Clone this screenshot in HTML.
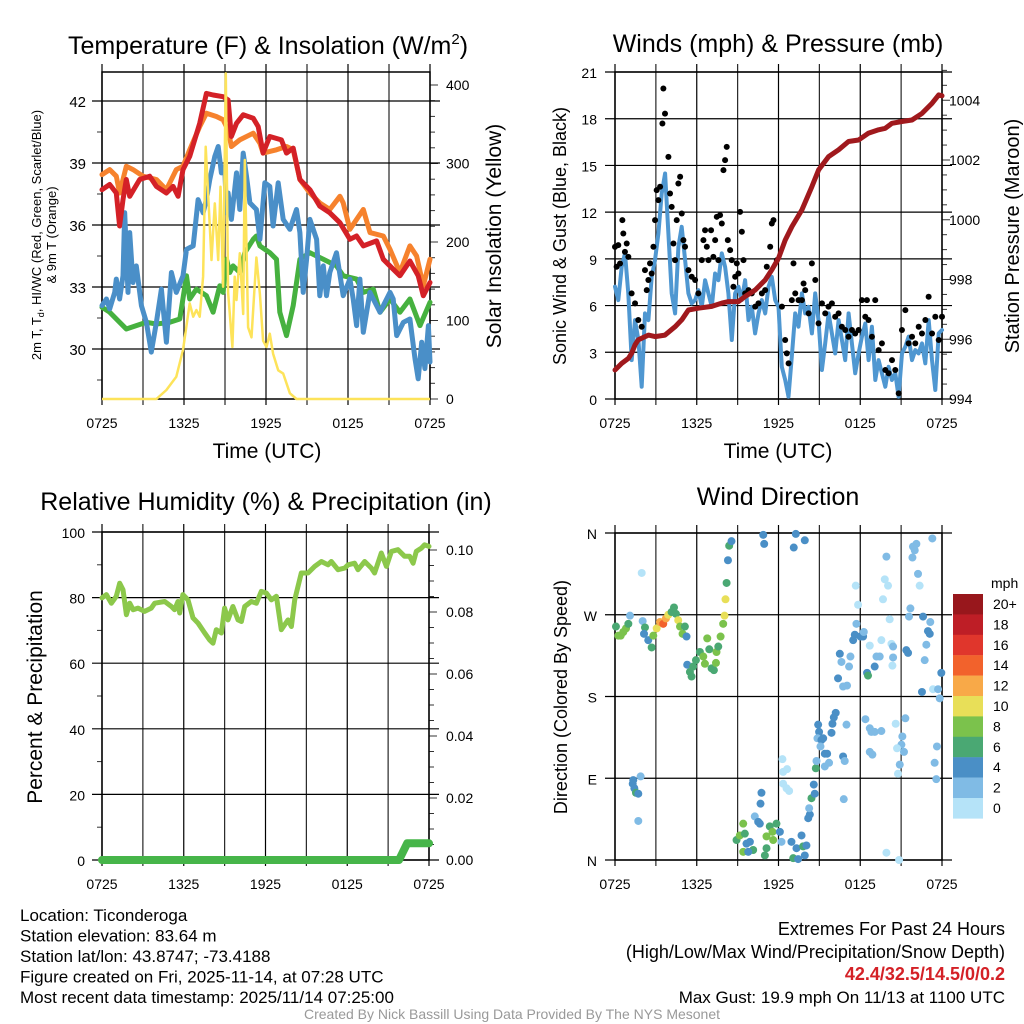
<!DOCTYPE html>
<html><head><meta charset="utf-8"><style>
body{margin:0;background:#fff;}
svg{display:block;font-family:"Liberation Sans",sans-serif;}
</style></head><body>
<svg id="c" width="1024" height="1024" viewBox="0 0 1024 1024"></svg>
<script>
// ---------- data ----------
const redT=[0,.56,1.05,1.29,1.54,1.78,2.03,2.76,3.49,3.98,4.71,5.2,5.57,5.93,6.42,7.15,7.64,8.13,8.86,9.23,9.47,9.84,10.33,11.06,11.43,11.79,12.28,13.13,13.5,13.99,14.48,15.21,15.94,16.67,17.41,18.14,18.63,19.12,20.09,20.58,21.31,21.8,22.53,23.14,23.51,24];
const redV=[37.71,37.96,37.55,35.95,37.23,38.2,37.39,38.2,38.36,37.87,37.55,37.87,37.39,38.68,39.32,40.92,42.37,42.29,42.21,42.05,40.28,40.92,41.33,41.17,40.76,39.48,40.28,40.12,39.48,39.72,38.2,37.71,36.91,36.59,36.11,35.31,35.47,34.99,35.23,34.34,33.86,33.54,34.26,33.54,32.58,33.22];
const orgT=[0,.56,1.05,1.29,1.78,2.27,3.0,3.98,4.71,5.44,5.93,6.42,7.15,7.64,8.37,8.86,9.23,9.47,10.08,11.06,11.55,11.79,12.77,13.5,13.99,14.48,15.21,15.94,16.67,17.41,17.65,18.14,19.12,19.61,20.58,21.07,21.8,22.53,23.02,23.51,24];
const orgV=[38.44,38.68,38.36,37.55,38.84,38.68,38.36,38.2,37.71,38.68,38.84,39.64,40.76,41.41,41.25,41.09,40.6,39.8,40.12,40.44,39.96,39.48,39.64,39.8,39.64,38.2,37.55,37.07,36.75,37.39,37.07,35.79,36.75,35.63,35.47,34.82,33.7,34.99,34.5,33.06,34.34];
const grnT=[0,.56,1.29,1.78,2.51,3.25,3.98,4.96,5.69,6.18,6.42,6.91,7.64,8.13,8.62,8.86,9.11,9.35,9.59,10.08,10.45,11.06,11.3,11.55,12.28,12.77,13.01,13.5,13.99,14.48,15.21,16.19,17.16,17.65,18.63,19.12,19.85,20.34,21.07,21.8,22.53,23.27,24];
const grnV=[32.02,31.78,31.29,30.97,31.13,31.29,31.21,31.29,31.45,33.54,32.42,32.9,32.58,31.78,33.06,32.74,34.34,33.7,34.02,33.7,34.66,35.31,35.47,34.99,34.66,34.34,31.78,30.65,32.1,34.34,34.66,34.34,34.02,33.54,33.38,32.74,32.9,31.78,32.42,31.78,32.42,31.13,32.26];
const bluT=[0,.32,.56,.93,1.05,1.29,1.54,1.66,1.9,2.03,2.27,2.51,2.88,3.25,3.61,3.98,4.35,4.71,5.08,5.44,5.93,6.18,6.67,7.03,7.4,7.64,7.89,8.25,8.5,8.74,8.98,9.11,9.23,9.47,9.84,10.08,10.33,10.57,10.82,11.3,11.55,11.91,12.28,12.52,12.89,13.26,13.75,14.23,14.48,14.72,14.97,15.21,15.7,15.94,16.19,16.43,16.67,17.16,17.65,18.14,18.38,18.63,18.87,19.12,19.6,20.34,21.07,21.31,21.56,22.05,22.53,22.9,23.14,23.39,23.63,23.88,24];
const bluV=[32.1,32.42,31.94,32.74,33.38,32.42,33.54,36.59,32.74,35.63,33.22,34.02,32.1,31.29,29.85,31.29,32.9,30.33,33.7,32.74,33.54,34.82,34.99,37.23,36.59,37.23,38.2,39.32,39.8,38.52,38.84,36.59,37.55,36.27,38.52,36.75,39.48,38.36,37.07,36.75,35.31,38.04,37.87,35.95,38.04,36.27,35.79,36.75,35.63,32.74,34.34,36.27,35.31,32.58,34.02,32.58,33.7,34.66,32.58,33.38,32.42,31.13,33.38,30.81,32.74,31.78,32.74,32.42,30.65,31.29,31.45,29.53,28.56,30.33,29.05,31.13,29.37];
const solT=[0,3.98,4.71,5.44,5.93,6.42,6.67,6.91,7.15,7.4,7.59,7.76,8.01,8.25,8.5,8.67,8.86,9.06,9.23,9.54,9.71,9.84,10.08,10.33,10.45,10.69,10.94,11.3,11.55,11.79,12.04,12.28,12.52,12.89,13.26,13.75,14.23,24];
const solV=[0,0,11.5,28.4,62.4,121.8,104.9,113.4,104.9,155.8,321.4,261.9,177.1,249.2,177.1,270.4,143.1,414.8,135.9,66.2,155.8,126.1,185.6,108.3,304.4,91.3,78.6,180.3,133.7,74.3,66.2,83.2,57.7,36.5,32.3,7.2,0,0];

const presT=[0,.49,.98,1.22,1.47,1.71,2.45,2.94,3.67,4.41,4.9,5.39,6.12,7.1,7.84,8.33,9.06,9.55,10.29,11.02,11.51,12.0,12.49,12.98,13.72,14.45,14.94,15.67,16.41,17.14,17.88,18.61,19.35,19.84,20.33,21.06,21.8,22.53,23.27,23.76,24];
const presV=[994.97,995.19,995.36,995.53,995.81,995.98,996.14,996.09,996.14,996.42,996.65,996.98,997.04,997.1,997.21,997.26,997.26,997.43,997.65,997.98,998.32,998.71,999.32,999.77,1000.33,1001.11,1001.67,1002.11,1002.34,1002.62,1002.67,1002.9,1003.01,1003.06,1003.23,1003.29,1003.34,1003.56,1003.9,1004.18,1004.15];
const windV=[7.21,6.35,8.49,9.35,6.78,2.5,5.07,3.79,0.79,5.5,5.07,7.85,8.92,10.63,13.2,14.48,10.63,6.78,5.5,9.77,11.06,8.92,6.78,6.14,6.35,6.99,5.92,7.63,6.78,5.92,8.06,7.63,9.35,8.49,6.78,3.79,6.78,7.21,6.35,7.63,5.07,5.92,4.21,5.5,6.35,5.5,7.21,7.85,6.35,5.92,2.07,1.22,0.15,2.72,5.5,4.64,6.78,5.5,5.92,4.21,6.78,5.07,1.86,3.57,5.5,4.21,2.93,5.07,3.79,2.5,5.5,3.57,1.65,2.93,4.0,4.85,2.5,4.64,1.22,2.5,1.65,0.79,2.07,1.22,1.65,0.15,2.93,3.36,4.0,2.5,3.14,2.93,3.57,2.29,5.07,2.5,0.58,4.21,4.43];
const gustT=[0,.12,.24,.37,.54,.61,.73,.86,.98,1.22,1.47,1.71,1.96,2.2,2.33,2.45,2.57,2.69,2.82,2.94,3.06,3.18,3.31,3.48,3.55,3.67,3.92,4.04,4.16,4.29,4.41,4.53,4.65,4.78,4.9,5.02,5.14,5.39,5.63,5.88,6.12,6.37,6.49,6.61,6.74,6.86,7.05,7.22,7.35,7.47,7.59,7.71,7.84,7.96,8.08,8.2,8.28,8.45,8.57,8.69,8.82,8.94,9.06,9.18,9.31,9.43,9.55,9.8,10.04,10.29,10.53,10.78,11.02,11.14,11.39,11.51,11.63,11.88,12.25,12.49,12.61,12.74,12.98,13.1,13.23,13.47,13.72,13.84,13.96,14.21,14.45,14.7,14.94,15.19,15.43,15.67,15.92,16.16,16.41,16.65,16.9,17.14,17.39,17.63,17.88,18.12,18.37,18.49,18.61,18.86,19.1,19.35,19.59,19.84,20.08,20.33,20.57,20.82,21.06,21.31,21.55,21.8,22.04,22.29,22.53,22.78,23.02,23.27,23.51,23.76,24];
const gustV=[9.77,8.49,9.88,8.7,11.49,10.63,9.45,9.99,9.13,6.78,6.14,5.07,4.64,8.28,6.99,7.64,8.71,8.06,9.78,11.49,13.41,12.77,13.63,17.69,19.94,18.33,15.55,13.2,12.34,9.99,8.92,11.49,13.84,14.27,11.91,10.2,9.78,8.28,7.85,7.64,6.78,8.92,10.2,10.84,9.78,8.92,10.84,9.13,10.2,11.7,8.92,11.81,11.27,14.7,15.34,16.19,10.2,9.56,8.92,7.21,7.85,8.71,8.06,12.02,10.74,8.92,6.78,6.99,6.78,5.93,6.14,6.78,6.99,8.49,9.78,11.27,11.49,8.92,5.93,3.79,2.93,2.29,6.35,8.71,6.78,6.35,6.35,7.42,6.99,5.5,8.71,7.64,4.86,6.14,5.5,5.93,6.14,5.28,5.5,4.64,4.43,4.0,4.43,4.21,4.43,6.35,5.28,6.35,5.07,4.0,6.35,3.14,3.57,1.86,1.65,2.5,1.86,0.36,4.43,5.71,3.57,4.0,3.57,4.64,4.21,5.07,6.57,4.21,5.28,3.79,5.28];

const rhT=[0,.32,.69,1.05,1.3,1.54,1.79,2.03,2.28,2.64,3.13,3.62,3.87,4.6,5.09,5.33,5.58,5.7,5.94,6.31,6.68,7.05,7.54,7.9,8.15,8.39,8.76,9.0,9.25,9.61,9.98,10.23,10.47,10.96,11.33,11.69,12.06,12.43,12.8,13.16,13.65,13.9,14.14,14.63,15.12,15.61,16.1,16.59,16.83,17.32,17.81,18.06,18.54,18.79,19.28,19.77,20.01,20.5,20.87,21.24,21.72,22.21,22.58,22.83,23.07,23.44,23.68,24];
const rhV=[79.9,80.9,78.3,80.4,84.4,82.4,74.8,78.3,76.3,76.8,75.8,76.8,78.3,78.8,77.3,76.3,78.8,75.3,80.9,79.3,73.8,72.2,69.2,67.1,66.1,70.2,69.2,76.8,73.2,77.3,73.2,72.7,77.3,78.8,78.3,81.9,81.4,79.3,80.4,70.2,73.2,71.2,79.3,87.5,87.5,89.5,91.0,90.0,91.0,88.5,89.0,90.0,90.5,88.5,91.0,89.0,87.5,93.6,89.5,94.1,94.6,92.6,92.6,90.5,94.1,95.1,96.1,95.6];
const prT=[0,21.8,22.4,24];
const prV=[0,0,0.0054,0.0054];

const dirT=[.07,.24,.42,.61,.81,.98,1.1,1.96,2.03,2.2,2.13,2.44,2.69,2.81,3.06,3.3,3.54,3.74,3.91,4.15,4.33,4.47,4.64,4.77,4.96,5.13,5.25,5.3,5.5,5.62,5.74,5.94,6.23,6.48,6.6,6.77,6.92,7.09,7.26,7.41,7.45,7.58,7.75,7.94,8.04,8.11,8.19,8.29,8.38,8.55,
1.3,1.42,1.54,1.71,1.88,1.71,1.34,
8.92,9.16,9.41,9.53,9.65,9.9,10.14,10.26,10.51,10.63,10.75,10.68,11.12,11.36,11.56,11.61,11.85,12.1,12.22,9.41,9.78,11.0,11.12,12.95,13.08,13.32,13.44,13.69,13.81,13.93,14.05,
12.29,12.34,12.63,12.34,12.59,12.78,14.18,14.3,14.25,14.42,14.59,14.66,14.74,14.79,14.91,14.98,14.86,15.15,15.08,15.28,15.4,15.57,15.4,15.71,15.89,15.96,16.06,16.2,16.74,16.86,16.99,16.79,
16.37,16.5,16.62,16.74,17.03,17.18,17.28,17.48,17.6,17.72,17.84,17.67,18.01,18.21,18.26,18.5,18.57,18.7,19.06,19.19,19.43,19.55,19.67,19.8,19.92,20.04,20.16,20.29,20.41,20.41,20.36,21.38,21.51,21.58,21.68,21.83,21.87,22.0,22.12,22.24,22.36,22.61,22.73,22.85,22.97,23.1,23.14,23.29,22.53,23.34,23.71,23.83,23.95,
18.38,18.7,18.82,19.06,19.55,18.7,18.89,20.6,21.31,21.09,21.02,21.21,20.7,20.9,20.77,23.63,23.46,23.58,19.92,20.85,
10.88,10.95,13.12,13.27,13.93];
const dirV=[257,247,247,251,255,260,269,316,263,256,249,242,234,247,255,262,260,266,270,273,278,271,264,257,249,257,246,215,207,202,213,220,229,224,216,244,232,211,209,217,229,235,246,260,269,287,305,330,346,351,
84,79,74,73,92,43,88,
22,27,40,29,18,20,11,48,42,40,74,62,26,37,31,22,40,31,20,9,9,5,13,20,2,13,1,27,15,5,16,
111,97,100,84,79,76,46,50,57,68,83,73,101,109,149,141,134,132,125,134,117,117,103,107,140,150,157,162,114,109,149,67,
200,227,218,191,192,213,224,242,248,260,281,302,246,246,251,206,203,236,213,224,224,242,287,309,334,302,265,238,235,223,214,231,228,268,277,333,345,341,348,315,302,268,220,237,252,249,262,354,185,188,188,178,206,
155,145,141,141,142,119,116,150,156,136,127,119,123,105,95,125,107,89,8,0,
358,348,344,359,352];
const dirS=[7,9,9,9,9,7,3,1,3,7,5,5,7,9,11,13,15,13,11,7,7,7,11,9,9,7,5,5,7,7,7,7,7,9,9,9,7,7,7,9,9,7,9,9,11,11,7,5,7,5,
5,5,7,5,3,3,5,
7,9,9,7,5,5,7,3,5,5,5,5,9,7,9,9,7,5,3,9,5,7,7,5,7,5,5,5,7,5,5,
1,1,1,1,1,1,5,5,3,7,5,5,7,3,5,5,3,5,3,5,5,5,3,3,5,5,5,5,5,3,3,3,
5,5,3,3,3,3,3,5,5,3,1,1,5,5,3,5,7,1,5,3,3,1,1,1,3,1,1,1,3,3,1,5,5,3,3,3,3,3,3,3,1,5,3,3,5,5,3,3,5,1,3,3,5,
3,3,3,3,3,3,3,1,3,3,3,3,1,3,1,3,3,3,1,1,
5,5,5,5,5];
const cbLabels=['20+','18','16','14','12','10','8','6','4','2','0'];
const cbColors=['#98171c','#be1e26','#e0362c','#f2622c','#f8a948','#e8df58','#7bc24c','#4aa873','#4a8fc6','#80bbe5','#b5e3f8'];
const xLabels=['0725','1325','1925','0125','0725'];

// ---------- helpers ----------
const NS='http://www.w3.org/2000/svg';
const svg=document.getElementById('c');
function mk(tag,attrs,parent){const e=document.createElementNS(NS,tag);for(const k in attrs)e.setAttribute(k,attrs[k]);(parent||svg).appendChild(e);return e;}
function txt(s,x,y,size,anchor,parent,extra){const t=mk('text',Object.assign({x:x,y:y,'font-size':size,'text-anchor':anchor||'middle',fill:'#000'},extra||{}),parent);t.textContent=s;return t;}
function lin(d0,d1,p0,p1){return v=>p0+(v-d0)*(p1-p0)/(d1-d0);}
function path(xs,ys,fx,fy){return xs.map((t,i)=>(i?'L':'M')+fx(t).toFixed(1)+','+fy(ys[i]).toFixed(1)).join('');}

function frame(g,L,R,T,B){
  for(let h=0;h<=24;h+=3){const x=lin(0,24,L,R)(h);const v=mk('line',{x1:x,x2:x,y1:T-8,y2:B+6,stroke:'#000','stroke-width':1.2,'stroke-opacity':h%6?0.85:1},g);
    
    }
  const fx=lin(0,24,L,R);
  xLabels.forEach((s,i)=>{const t=txt(s,fx(i*6),B+29,14,'middle',g);
    
    });
}
function hgrid(g,L,R,y){const l=mk('line',{x1:L-10,x2:R+10,y1:y,y2:y,stroke:'#000','stroke-width':1.2},g);
  
  }
function tick(g,x,y,len){mk('line',{x1:x,x2:x+len,y1:y,y2:y,stroke:'#000','stroke-width':1,'stroke-opacity':0.8},g);}
function rotText(s,x,y,size,g){const t=txt(s,x,y,size,'middle',g,{transform:'rotate(-90 '+x+' '+y+')'});return t;}

// ---------- Panel 1 ----------
(function(){
  const g=mk('g',{});
  const L=102,R=430,T=72,B=399;
  const fx=lin(0,24,L,R), fy=lin(42,39,101,163), fy2=lin(0,400,399,85);
  frame(g,L,R,T,B);
  [42,39,36,33,30].forEach(v=>{hgrid(g,L,R,fy(v));const t=txt(String(v),86,fy(v)+6,15,'end',g);
    });
  for(let v=28.5;v<43.5;v+=3)tick(g,L-5,fy(v),5);
  for(let v=0;v<=400;v+=20)tick(g,R,fy2(v),v%100?5:8);
  [0,100,200,300,400].forEach(v=>{const t=txt(String(v),446,fy2(v)+5,14,'start',g);
    });
  mk('rect',{x:L,y:T,width:R-L,height:B-T,fill:'none',stroke:'#000','stroke-width':1.5},g);
  const series=[[grnT,grnV,'#46b13f','dewpoint-line'],[bluT,bluV,'#4a8fc8','windchill-line'],[orgT,orgV,'#f6822d','temp-9m-line'],[redT,redV,'#d42127','temp-2m-line']];
  series.forEach(s=>{const p=mk('path',{d:path(s[0],s[1],fx,fy),fill:'none',stroke:s[2],'stroke-width':5,'stroke-linejoin':'round','stroke-linecap':'round'},g);
    });
  const sp=mk('path',{d:path(solT,solV,fx,v=>Math.max(T,fy2(v))),fill:'none',stroke:'#fde35a','stroke-width':2.5,'stroke-linejoin':'round'},g);
  
  const t1=txt('',268,54,25,'middle',g);t1.innerHTML='Temperature (F) &amp; Insolation (W/m<tspan font-size="15" dy="-10">2</tspan><tspan dy="10">)</tspan>';
  
  const xt=txt('Time (UTC)',267,458,21,'middle',g);
  const y1=rotText('',41,235,13,g);y1.innerHTML='2m T, T<tspan font-size="9" dy="3">d</tspan><tspan dy="-3">, HI/WC (Red, Green, Scarlet/Blue)</tspan>';
  
  const y1b=rotText('& 9m T (Orange)',56,235,13,g);
  const y2=rotText('Solar Insolation (Yellow)',501,236,21,g);
})();

// ---------- Panel 2 ----------
(function(){
  const g=mk('g',{});
  const L=615,R=942,T=72,B=399;
  const fx=lin(0,24,L,R), fy=lin(0,21,B,T), fy2=lin(994,1002,399,160);
  frame(g,L,R,T,B);
  for(let v=0;v<=21;v+=3){hgrid(g,L,R,fy(v));const t=txt(String(v),597,fy(v)+6,14,'end',g);
    }
  for(let v=994;v<=1005;v+=0.5)tick(g,R,fy2(v),v%2?5:8);
  for(let v=994;v<=1004;v+=2){const t=txt(String(v),949,fy2(v)+5,14,'start',g);
    }
  mk('rect',{x:L,y:T,width:R-L,height:B-T,fill:'none',stroke:'#000','stroke-width':1.5},g);
  const wt=windV.map((v,i)=>i*24/(windV.length-1));
  const wp=mk('path',{d:path(wt,windV,fx,fy),fill:'none',stroke:'#4f97d1','stroke-width':4,'stroke-linejoin':'round','stroke-linecap':'round'},g);
  
  gustT.forEach((t,i)=>{const c=mk('circle',{cx:fx(t),cy:fy(gustV[i]),r:3,fill:'#000'},g);
    
    });
  const pp=mk('path',{d:path(presT,presV,fx,fy2),fill:'none',stroke:'#a0191d','stroke-width':5,'stroke-linejoin':'round','stroke-linecap':'round'},g);
  
  const t1=txt('Winds (mph) & Pressure (mb)',778,52,25,'middle',g);
  const xt=txt('Time (UTC)',778,458,21,'middle',g);
  const y1=rotText('Sonic Wind & Gust (Blue, Black)',566,236,18,g);
  const y2=rotText('Station Pressure (Maroon)',1019,236,20,g);
})();

// ---------- Panel 3 ----------
(function(){
  const g=mk('g',{});
  const L=102,R=429,T=532,B=860;
  const fx=lin(0,24,L,R), fy=lin(0,100,B,T), fy2=lin(0,0.02,860,798);
  frame(g,L,R,T,B);
  for(let v=0;v<=100;v+=20){hgrid(g,L,R,fy(v));const t=txt(String(v),85,fy(v)+6,14,'end',g);
    }
  for(let v=10;v<100;v+=20)tick(g,L-5,fy(v),5);
  for(let v=0;v<=0.105;v+=0.005)tick(g,R,fy2(v),Math.round(v*1000)%20?5:8);
  ['0.00','0.02','0.04','0.06','0.08','0.10'].forEach((s,i)=>{const t=txt(s,446,fy2(i*0.02)+5,14,'start',g);
    });
  mk('rect',{x:L,y:T,width:R-L,height:B-T,fill:'none',stroke:'#000','stroke-width':1.5},g);
  const rp=mk('path',{d:path(rhT,rhV,fx,fy),fill:'none',stroke:'#8cc84b','stroke-width':5,'stroke-linejoin':'round','stroke-linecap':'round'},g);
  
  const pp=mk('path',{d:path(prT,prV,fx,fy2),fill:'none',stroke:'#46b549','stroke-width':8,'stroke-linejoin':'round','stroke-linecap':'round'},g);
  
  const t1=txt('Relative Humidity (%) & Precipitation (in)',266,510,25,'middle',g);
  const y1=rotText('Percent & Precipitation',42,697,21,g);
})();

// ---------- Panel 4 ----------
(function(){
  const g=mk('g',{});
  const L=615,R=942,T=533,B=860;
  const fx=lin(0,24,L,R), fy=lin(0,360,B,T);
  frame(g,L,R,T,B);
  ['N','E','S','W','N'].forEach((s,i)=>{hgrid(g,L,R,fy(i*90));const t=txt(s,597,fy(i*90)+6,14,'end',g);
    });
  mk('rect',{x:L,y:T,width:R-L,height:B-T,fill:'none',stroke:'#000','stroke-width':1.5},g);
  function col(s){const i=Math.min(10,Math.floor(s/2));return cbColors[10-i];}
  dirT.forEach((t,i)=>{const c=mk('circle',{cx:fx(t),cy:fy(dirV[i]),r:4,fill:col(dirS[i])},g);
    
    });
  const t1=txt('Wind Direction',778,505,25,'middle',g);
  const y1=rotText('Direction (Colored By Speed)',567,697,18,g);
  const lg=mk('g',{},g);
  const ut=txt('mph',991,588,14,'start',lg);
  cbColors.forEach((c,i)=>{const y=594+i*20.4;const r=mk('rect',{x:953,y:y,width:30,height:20.6,fill:c},lg);
    
    const t=txt(cbLabels[i],993,y+15,14,'start',lg);});
})();

// ---------- footer text ----------
(function(){
  const g=mk('g',{});
  ['Location: Ticonderoga','Station elevation: 83.64 m','Station lat/lon: 43.8747; -73.4188','Figure created on Fri, 2025-11-14, at 07:28 UTC','Most recent data timestamp: 2025/11/14 07:25:00'].forEach((s,i)=>{
    const t=txt(s,20,921+i*20.5,17,'start',g);});
  const g2=mk('g',{});
  const a=txt('Extremes For Past 24 Hours',1005,935,18,'end',g2);
  const b=txt('(High/Low/Max Wind/Precipitation/Snow Depth)',1005,958,18,'end',g2);
  const c=txt('42.4/32.5/14.5/0/0.2',1005,980,18,'end',g2,{fill:'#d42127','font-weight':'bold'});
  const d=txt('Max Gust: 19.9 mph On 11/13 at 1100 UTC',1005,1003,17,'end',g2);
  const e=txt('Created By Nick Bassill Using Data Provided By The NYS Mesonet',512,1019,14,'middle',null,{fill:'#999'});
})();
</script>
</body></html>
